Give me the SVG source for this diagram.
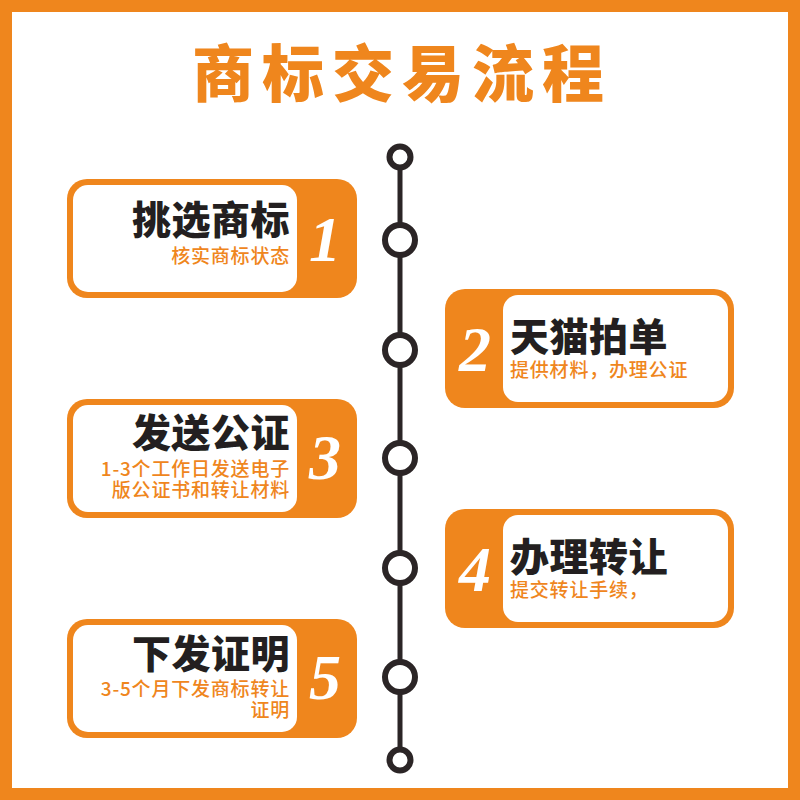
<svg xmlns="http://www.w3.org/2000/svg" width="800" height="800" viewBox="0 0 800 800">
<style>
.frame{fill:#fff;stroke:#EF861D;stroke-width:12}
.card{fill:#EF861D}
.inner{fill:#fff}
.t{font-family:"Noto Sans CJK SC","Noto Sans",sans-serif;font-weight:900;font-size:39px;letter-spacing:0.5px;fill:#231F20}
.s{font-family:"Noto Sans CJK SC","Noto Sans",sans-serif;font-weight:500;font-size:19px;letter-spacing:0.8px;fill:#EF861D}
.n{font-family:"Liberation Serif",serif;font-weight:bold;font-style:italic;font-size:64px;fill:#fff}
.h{font-family:"Noto Sans CJK SC",sans-serif;font-weight:900;font-size:62px;fill:#EF861D;letter-spacing:8px}
.line{stroke:#2B2526;stroke-width:5;fill:none}
.dot{stroke:#2B2526;stroke-width:6;fill:#fff}
</style>
<rect class="frame" x="6" y="6" width="788" height="788"/>
<text class="h" x="402" y="97" text-anchor="middle">商标交易流程</text>
<g id="connectors">
<line class="line" x1="400" y1="157" x2="400" y2="760"/>
</g>
<g id="dots">
<circle class="dot" cx="400" cy="157" r="10.5"/>
<circle class="dot" cx="400" cy="240" r="15"/>
<circle class="dot" cx="400" cy="350" r="15"/>
<circle class="dot" cx="400" cy="458" r="15"/>
<circle class="dot" cx="400" cy="568" r="15"/>
<circle class="dot" cx="400" cy="677" r="15"/>
<circle class="dot" cx="400" cy="760" r="10.5"/>
</g>
<g id="step1">
<rect class="card" x="67" y="179" width="290" height="119" rx="20"/>
<rect class="inner" x="73" y="185" width="224" height="107" rx="15"/>
<text class="t" x="290" y="234" text-anchor="end">挑选商标</text>
<text class="s" x="290" y="263" text-anchor="end">核实商标状态</text>
<text class="n" x="325" y="261" text-anchor="middle">1</text>
</g>
<g id="step2">
<rect class="card" x="445" y="289" width="289" height="119" rx="20"/>
<rect class="inner" x="503" y="295" width="225" height="107" rx="15"/>
<text class="t" x="510" y="351">天猫拍单</text>
<text class="s" x="510" y="377">提供材料，办理公证</text>
<text class="n" x="475" y="371" text-anchor="middle">2</text>
</g>
<g id="step3">
<rect class="card" x="67" y="399" width="290" height="119" rx="20"/>
<rect class="inner" x="73" y="405" width="224" height="107" rx="15"/>
<text class="t" x="290" y="447" text-anchor="end">发送公证</text>
<text class="s" x="290" y="476" text-anchor="end">1-3个工作日发送电子</text>
<text class="s" x="290" y="497" text-anchor="end">版公证书和转让材料</text>
<text class="n" x="325" y="479" text-anchor="middle">3</text>
</g>
<g id="step4">
<rect class="card" x="445" y="509" width="289" height="119" rx="20"/>
<rect class="inner" x="503" y="515" width="225" height="107" rx="15"/>
<text class="t" x="510" y="571">办理转让</text>
<text class="s" x="510" y="597">提交转让手续，</text>
<text class="n" x="475" y="591" text-anchor="middle">4</text>
</g>
<g id="step5">
<rect class="card" x="67" y="619" width="290" height="119" rx="20"/>
<rect class="inner" x="73" y="625" width="224" height="107" rx="15"/>
<text class="t" x="290" y="668" text-anchor="end">下发证明</text>
<text class="s" x="290" y="696" text-anchor="end">3-5个月下发商标转让</text>
<text class="s" x="290" y="717" text-anchor="end">证明</text>
<text class="n" x="325" y="699" text-anchor="middle">5</text>
</g>
</svg>
